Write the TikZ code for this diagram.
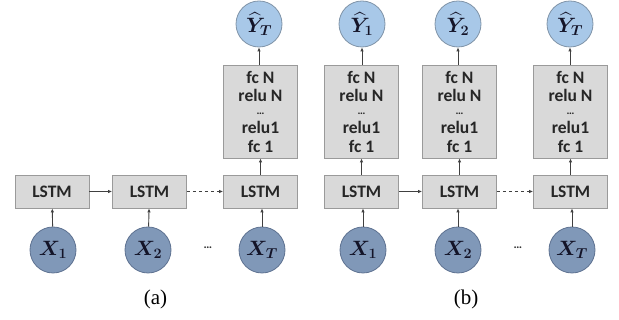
\documentclass[tikz,border=0pt]{standalone}
\usepackage{amsmath}
\usepackage{bm}
\usepackage{fontspec}
\setmainfont{Liberation Serif}
\newfontfamily\boxfont{Carlito}
\usetikzlibrary{arrows.meta}

\definecolor{boxfill}{HTML}{D9D9D9}
\definecolor{boxline}{HTML}{9A9A9A}
\definecolor{xfill}{HTML}{8098B8}
\definecolor{xline}{HTML}{5E7291}
\definecolor{yfill}{HTML}{A8C8E8}
\definecolor{yline}{HTML}{8094A8}
\definecolor{linkc}{HTML}{404040}
\definecolor{ink}{HTML}{141428}

\begin{document}
\begin{tikzpicture}[x=1pt,y=1pt,
  cell/.style={draw=boxline, fill=boxfill, line width=0.8pt,
    minimum width=74pt, minimum height=33pt, inner sep=0pt,
    font=\boxfont\bfseries\fontsize{17.5}{18.5}\selectfont, text=black!85},
  head/.style={cell, minimum height=93pt, align=center},
  xin/.style={circle, draw=xline, fill=xfill, minimum size=46pt,
    inner sep=0pt, line width=0.8pt, text=ink,
    font=\fontsize{20.74}{22}\selectfont},
  yout/.style={circle, draw=yline, fill=yfill, minimum size=46pt,
    inner sep=0pt, line width=0.8pt, text=ink,
    font=\fontsize{20.74}{22}\selectfont},
  link/.style={-{Latex[length=4pt,width=3.5pt]}, draw=linkc, line width=0.9pt},
  gap/.style={font=\boxfont\bfseries\fontsize{12}{14}\selectfont, text=black!80},
  caption/.style={font=\fontsize{21}{24}\selectfont}
]
\useasboundingbox (0,0) rectangle (619,320);

\newcommand{\headtext}{fc N\\relu N\\[-3pt]\raisebox{3pt}{\fontsize{11}{11}\selectfont\ldots}\\[-2pt]relu1\\fc 1}

% ---- (a): one output at the last step ----
\node[cell] (la1) at (52,128.5) {LSTM};
\node[cell] (la2) at (149.5,128.5) {LSTM};
\node[cell] (la3) at (260.5,128.5) {LSTM};
\node[xin] (xa1) at (53,70) {$\bm{X}_{\bm{1}}$};
\node[xin] (xa2) at (148,70) {$\bm{X}_{\bm{2}}$};
\node[xin] (xa3) at (262,70) {$\bm{X}_{\bm{T}}$};
\node[gap] (da) at (208,72) {\ldots};
\node[head] (ha3) at (260.5,208.5) {\headtext};
\node[yout] (ya3) at (259,296) {$\widehat{\bm{Y}}_{\bm{T}}$};

\draw[link] (xa1) -- (la1);
\draw[link] (xa2) -- (la2);
\draw[link] (xa3.north) -- (xa3.north |- la3.south);
\draw[link] (la1) -- (la2);
\draw[link, dashed] (la2) -- (la3);
\draw[link] (la3.north) -- (la3.north |- ha3.south);
\draw[link] (ya3.south |- ha3.north) -- (ya3.south);

\node[caption] (capa) at (155.5,21) {(a)};

% ---- (b): one output at every step ----
\node[cell] (lb1) at (361.5,128.5) {LSTM};
\node[cell] (lb2) at (459.5,128.5) {LSTM};
\node[cell] (lb3) at (570.5,128.5) {LSTM};
\node[xin] (xb1) at (363,70) {$\bm{X}_{\bm{1}}$};
\node[xin] (xb2) at (458,70) {$\bm{X}_{\bm{2}}$};
\node[xin] (xb3) at (572,70) {$\bm{X}_{\bm{T}}$};
\node[gap] (db) at (518,72) {\ldots};
\node[head] (hb1) at (361.5,208.5) {\headtext};
\node[head] (hb2) at (459.5,208.5) {\headtext};
\node[head] (hb3) at (570.5,208.5) {\headtext};
\node[yout] (yb1) at (362,296) {$\widehat{\bm{Y}}_{\bm{1}}$};
\node[yout] (yb2) at (458,296) {$\widehat{\bm{Y}}_{\bm{2}}$};
\node[yout] (yb3) at (570,296) {$\widehat{\bm{Y}}_{\bm{T}}$};

\draw[link] (xb1.north) -- (xb1.north |- lb1.south);
\draw[link] (xb2.north) -- (xb2.north |- lb2.south);
\draw[link] (xb3.north) -- (xb3.north |- lb3.south);
\draw[link] (lb1) -- (lb2);
\draw[link, dashed] (lb2) -- (lb3);
\foreach \i in {1,2,3}{
  \draw[link] (lb\i.north) -- (lb\i.north |- hb\i.south);
  \draw[link] (yb\i.south |- hb\i.north) -- (yb\i.south);
}

\node[caption] (capb) at (466,21) {(b)};
\end{tikzpicture}
\end{document}
